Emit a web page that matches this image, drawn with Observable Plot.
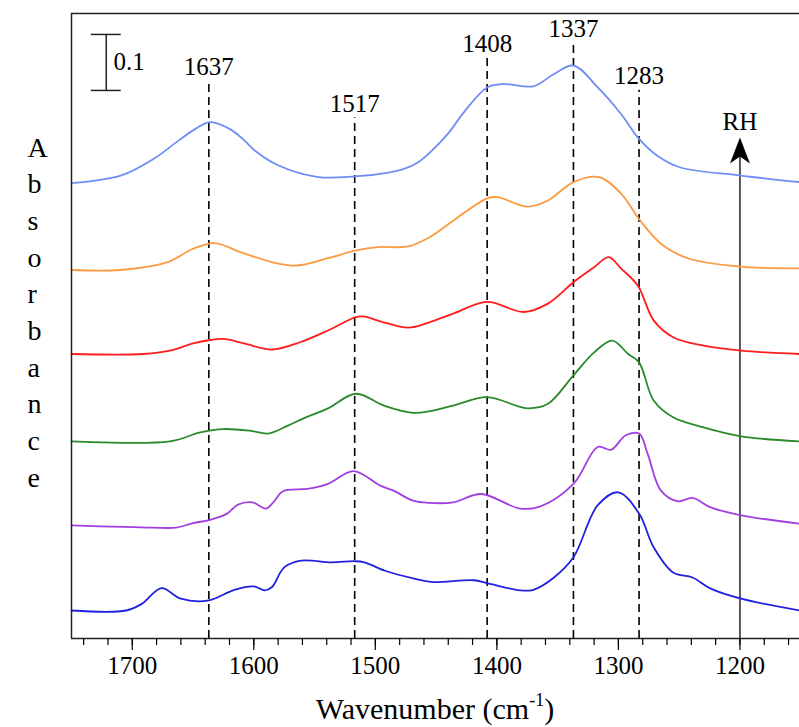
<!DOCTYPE html>
<html><head><meta charset="utf-8">
<script src="https://cdn.jsdelivr.net/npm/d3@7"></script>
<script src="https://cdn.jsdelivr.net/npm/@observablehq/plot@0.6"></script>
<style>body{margin:0;background:#fff;} svg{display:block}</style>
</head><body><div id="chart"></div>
<script>
// Spectra (wavenumber in cm-1, absorbance incl. vertical offset), top to bottom
const s1Wn  = [1750,1709,1682,1662,1648,1636,1620,1608,1599,1580,1547,1517,1489,1477,1465,1455,1440,1427,1408,1394,1370,1353,1337,1317,1298,1283,1268,1249,1201,1151];
const s1Abs = [0.813,0.827,0.857,0.889,0.910,0.922,0.910,0.890,0.871,0.845,0.824,0.825,0.832,0.838,0.850,0.868,0.902,0.940,0.984,0.990,0.986,1.008,1.023,0.984,0.937,0.892,0.862,0.841,0.827,0.815];
const s2Wn  = [1750,1710,1671,1650,1632,1611,1581,1564,1539,1516,1498,1473,1455,1436,1408,1399,1375,1358,1337,1316,1298,1282,1265,1243,1199,1151];
const s2Abs = [0.658,0.658,0.672,0.696,0.706,0.690,0.670,0.666,0.679,0.693,0.699,0.700,0.717,0.746,0.786,0.788,0.771,0.782,0.815,0.824,0.795,0.746,0.705,0.679,0.664,0.661];
const s3Wn  = [1750,1691,1669,1650,1636,1625,1608,1585,1562,1539,1516,1510,1492,1473,1455,1436,1408,1378,1358,1337,1320,1308,1298,1284,1271,1255,1230,1199,1151];
const s3Abs = [0.508,0.508,0.514,0.527,0.533,0.535,0.527,0.516,0.529,0.550,0.574,0.575,0.564,0.555,0.565,0.580,0.601,0.583,0.598,0.636,0.663,0.681,0.661,0.630,0.568,0.538,0.523,0.514,0.508];
const s4Wn  = [1750,1669,1644,1625,1603,1588,1572,1559,1539,1516,1493,1469,1455,1436,1408,1375,1358,1337,1320,1305,1292,1283,1271,1255,1230,1199,1151];
const s4Abs = [0.352,0.352,0.368,0.374,0.371,0.366,0.380,0.393,0.411,0.437,0.416,0.403,0.406,0.416,0.431,0.411,0.419,0.470,0.511,0.532,0.508,0.493,0.425,0.395,0.377,0.361,0.352];
const s5Wn  = [1750,1683,1664,1650,1636,1622,1613,1601,1590,1584,1576,1556,1539,1518,1496,1485,1469,1455,1436,1413,1381,1364,1337,1317,1306,1294,1283,1276,1265,1251,1239,1224,1199,1151];
const s5Abs = [0.202,0.198,0.198,0.206,0.212,0.223,0.239,0.243,0.232,0.243,0.263,0.267,0.276,0.299,0.273,0.264,0.246,0.242,0.243,0.258,0.232,0.236,0.276,0.342,0.337,0.363,0.366,0.330,0.264,0.245,0.251,0.234,0.220,0.205];
const s6Wn  = [1750,1705,1692,1676,1660,1637,1616,1600,1591,1585,1575,1561,1536,1517,1509,1492,1468,1454,1419,1408,1381,1370,1353,1337,1317,1300,1283,1271,1255,1239,1224,1199,1151];
const s6Abs = [0.050,0.050,0.062,0.090,0.071,0.068,0.087,0.093,0.086,0.092,0.127,0.139,0.136,0.138,0.136,0.121,0.107,0.101,0.104,0.099,0.086,0.087,0.109,0.145,0.238,0.261,0.223,0.163,0.118,0.109,0.089,0.071,0.050];
const seriesColors = ["#6e8ef5","#fb9a40","#ff1c1c","#2a8a2a","#a23ee0","#2020e0"];

// Marked bands
const peakWn  = [1637, 1517, 1408, 1337, 1283];
const peakTop = [0.996, 0.930, 1.036, 1.0625, 0.979];
const peakLabels = ["1637", "1517", "1408", "1337", "1283"];

// Tick labels
const majorTicks = [1700, 1600, 1500, 1400, 1300, 1200];
const minorTicks = d3.range(1160, 1750, 20);

// Scale bar and RH arrow
const scaleBarWn = 1721.4, scaleBarLow = 0.9786, scaleBarSize = 0.1, scaleBarLabel = "0.1";
const rhWn = 1200, rhTip = 0.8946, rhLabel = "RH", rhLabelY = 0.922;
const yLabel = "Absorbance";

const wnAll = [s1Wn, s2Wn, s3Wn, s4Wn, s5Wn, s6Wn];
const absAll = [s1Abs, s2Abs, s3Abs, s4Abs, s5Abs, s6Abs];
const rows = [];
wnAll.forEach((wn, k) => wn.forEach((w, i) => rows.push({series: k, wn: w, a: absAll[k][i]})));
const peaks = peakWn.map((w, i) => ({wn: w, top: peakTop[i], label: peakLabels[i]}));

const arrowHead = {
  draw(ctx) {
    ctx.moveTo(0, 0);
    ctx.lineTo(10, 26);
    ctx.lineTo(0, 19);
    ctx.lineTo(-10, 26);
    ctx.closePath();
  }
};

const W = 799, H = 727;
const plot = Plot.plot({
  width: W, height: H,
  marginTop: 13, marginBottom: 89, marginLeft: 71, marginRight: 0,
  style: {fontFamily: "'Liberation Serif', 'Times New Roman', serif", fontSize: "25px", color: "#000", background: "#fff"},
  x: {domain: [1750, 1151]},
  y: {domain: [0, 1.116], axis: null},
  color: {type: "ordinal", domain: d3.range(6), range: seriesColors},
  marks: [
    Plot.ruleX(peaks, {x: "wn", y1: 0, y2: "top", stroke: "#000", strokeWidth: 1.6, strokeDasharray: "8,5"}),
    Plot.text(peaks, {x: "wn", y: "top", text: "label", dy: -14, fontSize: 25, fill: "#000"}),
    Plot.ruleX([rhWn], {y1: 0, y2: rhTip - 0.03, stroke: "#333", strokeWidth: 1.6}),
    Plot.dot([rhWn], {x: d => d, y: () => rhTip, symbol: arrowHead, fill: "#000", stroke: "none"}),
    Plot.text([rhLabel], {x: () => rhWn, y: () => rhLabelY, text: d => d, fontSize: 25, fill: "#000"}),
    Plot.ruleX([scaleBarWn], {y1: scaleBarLow, y2: scaleBarLow + scaleBarSize, stroke: "#222", strokeWidth: 1.5}),
    Plot.ruleY([scaleBarLow, scaleBarLow + scaleBarSize], {x1: scaleBarWn + 12.3, x2: scaleBarWn - 12.3, stroke: "#222", strokeWidth: 1.5}),
    Plot.text([scaleBarLabel], {x: () => scaleBarWn - 6, y: () => scaleBarLow + scaleBarSize / 2 + 0.0005, text: d => d, textAnchor: "start", fontSize: 25, fill: "#000"}),
    Plot.line(rows, {x: "wn", y: "a", z: "series", stroke: "series", strokeWidth: 1.8, curve: "catmull-rom"}),
    Plot.ruleX([1750], {stroke: "#222", strokeWidth: 1.5}),
    Plot.ruleY([0, 1.116], {stroke: "#222", strokeWidth: 1.5}),
    Plot.axisX({ticks: minorTicks, tickSize: 7, tickFormat: () => "", label: null, strokeWidth: 1.2}),
    Plot.axisX({ticks: majorTicks, tickSize: 12, tickPadding: 6, tickFormat: d => String(d), label: null, fontSize: 25, strokeWidth: 1.2}),
    Plot.text([yLabel], {frameAnchor: "left", dx: -44, dy: -16, text: d => d.split("").join("\n"), lineHeight: 1.31, fontSize: 28, fill: "#000"})
  ]
});

const xr = plot.scale("x").range;
const svg = d3.select(plot);
const t = svg.append("text")
  .attr("x", (xr[0] + xr[1]) / 2)
  .attr("y", H - 8)
  .attr("text-anchor", "middle")
  .attr("font-size", 30)
  .attr("fill", "#000");
t.append("tspan").text("Wavenumber (cm");
t.append("tspan").attr("font-size", 18).attr("dy", "-0.75em").text("-1");
t.append("tspan").attr("dy", "0.45em").text(")");
document.getElementById("chart").appendChild(plot);
</script></body></html>
